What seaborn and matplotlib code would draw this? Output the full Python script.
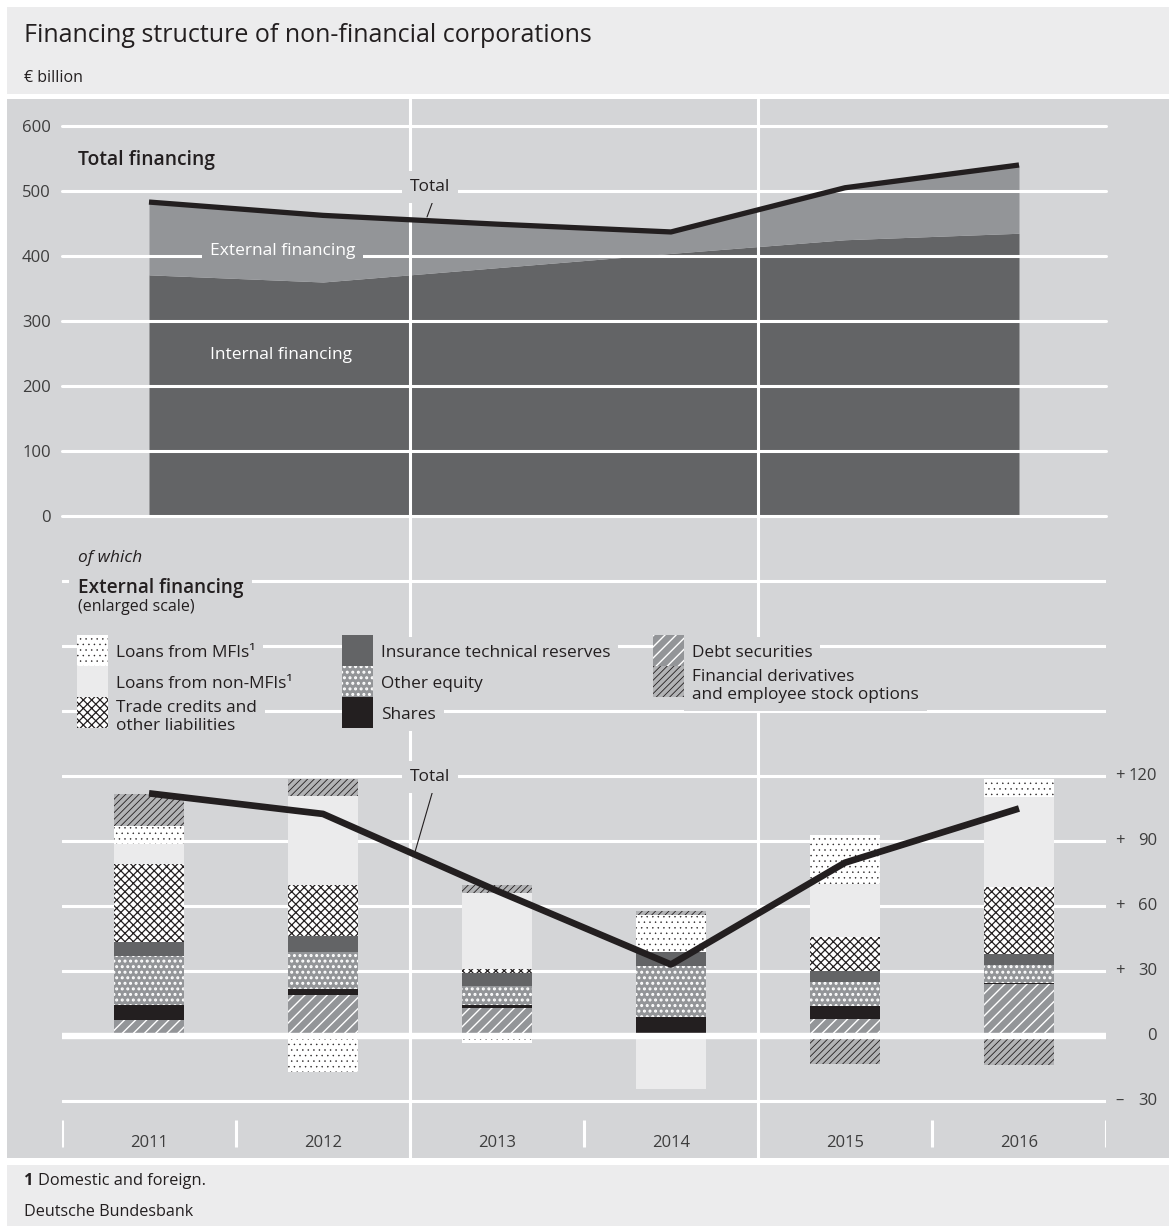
import numpy as np
import matplotlib
matplotlib.use("Agg")
import matplotlib.pyplot as plt
from matplotlib.patches import Rectangle
from matplotlib.lines import Line2D
import seaborn as sns

# data (EUR billion)
years = [2011, 2012, 2013, 2014, 2015, 2016]
internal_financing = [371, 360, 382, 404, 425, 435]
external_financing = [112, 102.5, 67, 33, 80, 105]

debt_securities = [7.5, 19, 13, 0, 8, 24]
shares = [7, 2.8, 1.2, 9, 5.7, 0.6]
other_equity = [22.6, 17, 9, 23.5, 11, 8.3]
insurance_reserves = [6.4, 7.5, 6.1, 6.2, 5.1, 5]
trade_credits = [36, 23.4, 1.6, 0, 15.7, 31]
loans_non_mfi = [9.2, 41, 35, -24.5, 24.6, 41.6]
loans_mfi = [8, -16.5, -3, 17, 22.8, 8.1]
derivatives = [15, 8, 3.6, 2, -13, -13.4]

top_ticks = [0, 100, 200, 300, 400, 500, 600]
bottom_ticks = [-30, 0, 30, 60, 90, 120]
bottom_grid = [-30, 30, 60, 90, 120, 150, 180, 210]

W, H = 1169, 1226
PANEL = "#d4d5d7"
BAND = "#ececed"
INK = "#231f20"
TICK = "#3d3d3d"

# styles: face, hatch colour, hatch, hatch linewidth
styles = {
    "Debt securities": ("#939598", "white", "///", 1.0),
    "Shares": (INK, INK, None, 1.0),
    "Other equity": ("#939598", "white", "...", 1.4),
    "Insurance technical reserves": ("#636466", "#636466", None, 1.0),
    "Trade credits and\nother liabilities": ("white", INK, "xxxx", 0.9),
    "Loans from non-MFIs¹": ("#ebebec", "#ebebec", None, 1.0),
    "Loans from MFIs¹": ("white", INK, "...", 0.3),
    "Financial derivatives\nand employee stock options": ("#b2b3b5", INK, "/////", 0.6),
}
stack = [
    ("Debt securities", debt_securities),
    ("Shares", shares),
    ("Other equity", other_equity),
    ("Insurance technical reserves", insurance_reserves),
    ("Trade credits and\nother liabilities", trade_credits),
    ("Loans from non-MFIs¹", loans_non_mfi),
    ("Loans from MFIs¹", loans_mfi),
    ("Financial derivatives\nand employee stock options", derivatives),
]

sns.set_style("white")
plt.rcParams["font.family"] = ["Open Sans", "DejaVu Sans"]


def fx(x):
    return x / W


def fy(y):
    return 1 - y / H


def set_hlw(patch, lw):
    try:
        patch.set_hatch_linewidth(lw)
    except AttributeError:
        pass


fig = plt.figure(figsize=(W / 100, H / 100), dpi=100)
fig.patch.set_facecolor("white")

# background bands
fig.add_artist(Rectangle((fx(7), fy(94)), fx(W - 7), 87 / H, color=BAND, lw=0, zorder=-10))
fig.add_artist(Rectangle((fx(7), fy(1158)), fx(W - 7), (1158 - 99) / H, color=PANEL, lw=0, zorder=-10))
fig.add_artist(Rectangle((fx(7), 0), fx(W - 7), (H - 1165) / H, color=BAND, lw=0, zorder=-10))

ax_top = fig.add_axes([fx(62), fy(516), fx(1106 - 62), (516 - 99) / H])
ax_bot = fig.add_axes([fx(62), fy(1158), fx(1106 - 62), (1158 - 516) / H])
scale = 65 / 30
for ax in (ax_top, ax_bot):
    ax.set_facecolor("none")
    for s in ax.spines.values():
        s.set_visible(False)
    ax.set_xlim(2010.5, 2016.5)
    ax.set_xticks([])

# ---- top: total financing ----
total_financing = np.array(internal_financing) + np.array(external_financing)
ax_top.stackplot(years, internal_financing, external_financing,
                 colors=["#636466", "#939598"], lw=0, zorder=1)
for t in top_ticks:
    ax_top.axhline(t, color="white", lw=2.2, zorder=2, clip_on=False)
sns.lineplot(x=years, y=total_financing, ax=ax_top, color=INK, lw=3.8,
             solid_capstyle="butt", zorder=5)
ax_top.set_ylim(0, (516 - 99) / 0.65)
ax_top.set_yticks(top_ticks)
ax_top.tick_params(axis="y", length=0, pad=8, labelsize=12, labelcolor=TICK)
ax_top.set_xlabel("")
ax_top.set_ylabel("")

# ---- bottom: external financing ----
for t in bottom_grid:
    ax_bot.axhline(t, color="white", lw=2.2, zorder=2)
pos_base = np.zeros(len(years))
neg_base = np.zeros(len(years))
for name, vals in stack:
    fc, hc, hatch, hlw = styles[name]
    v = np.array(vals, dtype=float)
    bottom = np.where(v >= 0, pos_base, neg_base)
    with plt.rc_context({"hatch.linewidth": hlw}):
        bars = ax_bot.bar(years, v, bottom=bottom, width=0.4, color=fc,
                          edgecolor=hc, hatch=hatch, linewidth=0, zorder=3)
    for p in bars:
        set_hlw(p, hlw)
    pos_base += np.clip(v, 0, None)
    neg_base += np.clip(v, None, 0)
ax_bot.axhline(0, color="white", lw=4.6, zorder=4)
sns.lineplot(x=years, y=external_financing, ax=ax_bot, color=INK, lw=4.8,
             solid_capstyle="butt", zorder=6)
ax_bot.set_ylim((1036 - 1158) / scale, (1036 - 516) / scale)
ax_bot.set_yticks([])
ax_bot.set_xlabel("")
ax_bot.set_ylabel("")

# vertical separators
for ax in (ax_top, ax_bot):
    for xv in (2012.5, 2014.5):
        ax.axvline(xv, color="white", lw=2.2, zorder=2)
ax_bot.vlines(np.arange(2010.5, 2017), (1036 - 1120) / scale, (1036 - 1147) / scale,
              color="white", lw=2.2, zorder=2)

# right hand axis labels
ytr = ax_bot.get_yaxis_transform()
for t in bottom_ticks:
    if t == 0:
        ax_bot.text(1.0489, t, "0", transform=ytr, ha="right", va="center",
                    fontsize=12, color=TICK)
        continue
    sign = "+" if t > 0 else "–"
    ax_bot.text(1.0086, t, sign, transform=ytr, ha="left", va="center",
                fontsize=12, color=TICK)
    ax_bot.text(1.0489, t, f"{abs(t)}", transform=ytr, ha="right", va="center",
                fontsize=12, color=TICK)

# year labels
xtr = ax_bot.get_xaxis_transform()
for yr in years:
    ax_bot.text(yr, 1 - (1147 - 516) / (1158 - 516), str(yr), transform=xtr,
                ha="center", va="baseline", fontsize=12, color=TICK)

# ---- texts ----
mask = dict(boxstyle="square,pad=0.45", fc=PANEL, ec="none")
fig.text(fx(24), fy(42), "Financing structure of non-financial corporations",
         fontsize=18, color=INK, va="baseline")
fig.text(fx(24), fy(82), "€ billion", fontsize=11.5, color=INK, va="baseline")
fig.text(fx(78), fy(165), "Total financing", fontsize=13.9, fontweight="semibold",
         color=INK, va="baseline")
fig.text(fx(410), fy(191), "Total", fontsize=12.5, color=INK, va="baseline",
         bbox=mask)
fig.add_artist(Line2D([fx(434), fx(427)], [fy(198), fy(217)], color=INK, lw=0.8))
fig.text(fx(210), fy(255), "External financing", fontsize=12.5, color="white",
         va="baseline", bbox=dict(boxstyle="square,pad=0.45", fc="#939598", ec="none"))
fig.text(fx(210), fy(359), "Internal financing", fontsize=12.5, color="white",
         va="baseline")

fig.text(fx(78), fy(562), "of which", fontsize=12.4, style="italic", color=INK,
         va="baseline")
fig.text(fx(78), fy(593), "External financing", fontsize=13.7, fontweight="semibold",
         color=INK, va="baseline", bbox=mask)
fig.text(fx(78), fy(611), "(enlarged scale)", fontsize=11.5, color=INK,
         va="baseline")
fig.text(fx(410), fy(781), "Total", fontsize=12.5, color=INK, va="baseline",
         bbox=mask)
fig.add_artist(Line2D([fx(433), fx(415)], [fy(790), fy(852)], color=INK, lw=0.8))

# legend
legend_cols = [
    (77, ["Loans from MFIs¹", "Loans from non-MFIs¹",
          "Trade credits and\nother liabilities"]),
    (342, ["Insurance technical reserves", "Other equity", "Shares"]),
    (653, ["Debt securities", "Financial derivatives\nand employee stock options"]),
]
for x0, names in legend_cols:
    y0 = 635
    for name in names:
        fc, hc, hatch, hlw = styles[name]
        with plt.rc_context({"hatch.linewidth": hlw}):
            sw = Rectangle((fx(x0), fy(y0 + 31)), 31 / W, 31 / H, facecolor=fc,
                           edgecolor=hc, hatch=hatch, lw=0, zorder=5)
        set_hlw(sw, hlw)
        fig.add_artist(sw)
        two = "\n" in name
        base = y0 + 22 if not two else y0 + 33
        fig.text(fx(x0 + 39), fy(base), name, fontsize=12.4, color=INK,
                 va="baseline", linespacing=1.15, bbox=mask, zorder=4)
        y0 += 31

# footer
fig.text(fx(24), fy(1185), "1", fontsize=11.8, fontweight="bold", color=INK, va="baseline")
fig.text(fx(38), fy(1185), "Domestic and foreign.", fontsize=11.8, color=INK, va="baseline")
fig.text(fx(24), fy(1216), "Deutsche Bundesbank", fontsize=11.6, color=INK, va="baseline")

fig.savefig("out.png", dpi=100)
